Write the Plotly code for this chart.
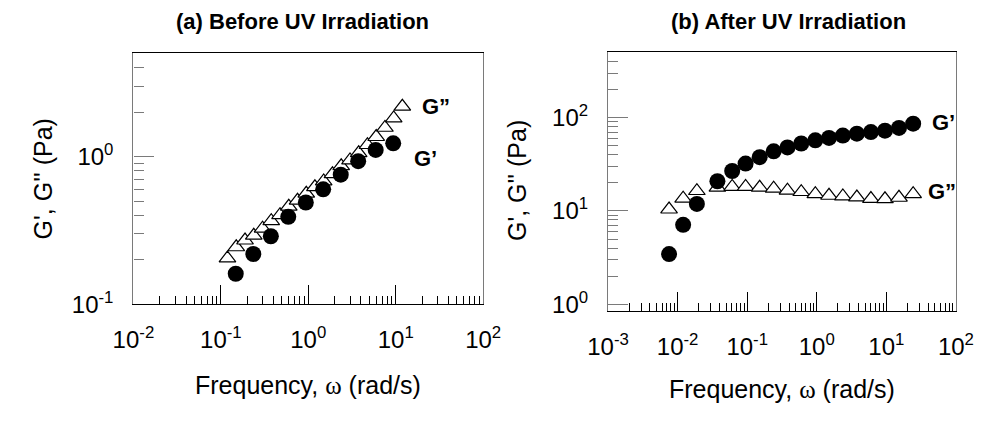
import plotly.graph_objects as go

# ---------------- data ----------------
# (a) Before UV irradiation
a_w_g2 = [0.119, 0.150, 0.189, 0.238, 0.300, 0.377, 0.475, 0.598, 0.753, 0.948,
          1.19, 1.50, 1.89, 2.38, 3.00, 3.77, 4.75, 5.98, 7.53, 9.48, 11.9]
a_g2 = [0.205, 0.244, 0.271, 0.292, 0.326, 0.367, 0.403, 0.459, 0.504, 0.562,
        0.622, 0.681, 0.762, 0.863, 0.946, 1.057, 1.20, 1.36, 1.57, 1.82, 2.18]
a_w_g1 = [0.148, 0.235, 0.373, 0.590, 0.937, 1.48, 2.35, 3.72, 5.90, 9.36]
a_g1 = [0.161, 0.219, 0.289, 0.391, 0.489, 0.600, 0.754, 0.931, 1.11, 1.23]

# (b) After UV irradiation
b_w = [0.00753, 0.0120, 0.0189, 0.0373, 0.0608, 0.0948, 0.151, 0.240, 0.379, 0.598,
       0.953, 1.50, 2.37, 3.77, 6.00, 9.56, 15.2, 24.3]
b_g1 = [3.45, 7.1, 11.9, 20.8, 26.8, 32.2, 37.7, 43.5, 47.9, 52.8,
        57.1, 60.5, 64.1, 67.2, 69.9, 72.4, 77.5, 86.0]
b_g2 = [10.4, 13.6, 16.4, 17.8, 18.2, 18.2, 17.8, 17.4, 16.6, 16.0,
        15.2, 14.6, 14.4, 14.0, 13.5, 13.4, 13.9, 15.2]

# tick labels
a_xticks = [0.01, 0.1, 1, 10, 100]
a_xtext = ["10<sup>-2</sup>", "10<sup>-1</sup>", "10<sup>0</sup>", "10<sup>1</sup>", "10<sup>2</sup>"]
a_yticks = [0.1, 1]
a_ytext = ["10<sup>-1</sup>", "10<sup>0</sup>"]
b_xticks = [0.001, 0.01, 0.1, 1, 10, 100]
b_xtext = ["10<sup>-3</sup>", "10<sup>-2</sup>", "10<sup>-1</sup>", "10<sup>0</sup>", "10<sup>1</sup>", "10<sup>2</sup>"]
b_yticks = [1, 10, 100]
b_ytext = ["10<sup>0</sup>", "10<sup>1</sup>", "10<sup>2</sup>"]


def minor_vals(d0, d1):
    return [k * 10.0 ** d for d in range(d0, d1) for k in range(2, 10)]


FONT = "Liberation Sans, Arial, sans-serif"
W, H = 996, 422

fig = go.Figure()

tri = dict(symbol="triangle-up", size=14.5, color="white", line=dict(color="black", width=1.2))
dot = dict(symbol="circle", size=16, color="black", line=dict(width=0))

fig.add_trace(go.Scatter(x=a_w_g2, y=a_g2, mode="markers", marker=tri, xaxis="x", yaxis="y"))
fig.add_trace(go.Scatter(x=a_w_g1, y=a_g1, mode="markers", marker=dot, xaxis="x", yaxis="y"))
fig.add_trace(go.Scatter(x=b_w, y=b_g2, mode="markers", marker=tri, xaxis="x2", yaxis="y2"))
fig.add_trace(go.Scatter(x=b_w, y=b_g1, mode="markers", marker=dot, xaxis="x2", yaxis="y2"))

XC = "black"
YC = "#7a7a7a"
TICKSZ = 24


def xax(domain, anchor, rng, tv, tt, mv):
    return dict(type="log", domain=domain, anchor=anchor, range=rng,
                showgrid=False, zeroline=False, showline=True, linecolor=XC, linewidth=1.3,
                mirror=True, ticks="inside", ticklen=19, tickwidth=1, tickcolor=XC,
                tickvals=tv, ticktext=tt, tickfont=dict(family=FONT, size=TICKSZ, color="black"),
                ticklabelstandoff=14,
                minor=dict(tickvals=mv, ticks="inside", ticklen=8, tickwidth=1, tickcolor=XC, showgrid=False))


def yax(domain, anchor, rng, tv, tt, mv):
    return dict(type="log", domain=domain, anchor=anchor, range=rng,
                showgrid=False, zeroline=False, showline=True, linecolor=YC, linewidth=1.3,
                mirror=True, ticks="inside", ticklen=20, tickwidth=1, tickcolor=YC,
                tickvals=tv, ticktext=tt, tickfont=dict(family=FONT, size=TICKSZ, color="black"),
                ticklabelstandoff=14,
                minor=dict(tickvals=mv, ticks="inside", ticklen=10, tickwidth=1, tickcolor=YC, showgrid=False))


fig.update_layout(
    width=W, height=H, margin=dict(l=0, r=0, t=0, b=0),
    paper_bgcolor="white", plot_bgcolor="white", showlegend=False,
    font=dict(family=FONT, color="black"),
    xaxis=xax([117 / W, 481 / W], "y", [-2, 2], a_xticks, a_xtext, minor_vals(-2, 2)),
    yaxis=yax([(H - 314) / H, (H - 55) / H], "x", [-1, 0.699], a_yticks, a_ytext, minor_vals(-1, 1)),
    xaxis2=xax([611 / W, 973 / W], "y2", [-3, 2], b_xticks, b_xtext, minor_vals(-3, 2)),
    yaxis2=yax([(H - 321) / H, (H - 54) / H], "x2", [-0.073, 2.699], b_yticks, b_ytext, minor_vals(0, 3)),
)

ann = []
# panel titles
ann.append(dict(text="<b>(a) Before UV Irradiation</b>", x=292.5 / W, y=(H - 22) / H, font=dict(size=22)))
ann.append(dict(text="<b>(b) After UV Irradiation</b>", x=799 / W, y=(H - 22) / H, font=dict(size=22)))
# axis titles
omega = "<span style='font-family:Liberation Serif, Times New Roman, serif'>ω</span>"
ann.append(dict(text="Frequency, " + omega + " (rad/s)", x=299 / W, y=(H - 397) / H, font=dict(size=25)))
ann.append(dict(text="Frequency, " + omega + " (rad/s)", x=792 / W, y=(H - 401) / H, font=dict(size=25)))
ann.append(dict(text="G', G'' (Pa)", x=23 / W, y=(H - 185) / H, textangle=-90, font=dict(size=25)))
ann.append(dict(text="G', G'' (Pa)", x=517 / W, y=(H - 186) / H, textangle=-90, font=dict(size=25)))
# series labels
ann.append(dict(text="<b>G”</b>", x=415 / W, y=(H - 110) / H, xanchor="left", font=dict(size=22)))
ann.append(dict(text="<b>G’</b>", x=407 / W, y=(H - 164) / H, xanchor="left", font=dict(size=22)))
ann.append(dict(text="<b>G’</b>", x=946 / W, y=(H - 126) / H, xanchor="left", font=dict(size=22)))
ann.append(dict(text="<b>G”</b>", x=942 / W, y=(H - 198) / H, xanchor="left", font=dict(size=22)))

for a in ann:
    a.setdefault("xanchor", "center")
    a.update(xref="paper", yref="paper", yanchor="middle", showarrow=False)
    a["font"] = dict(family=FONT, color="black", **a["font"])
fig.update_layout(annotations=ann)

fig.write_html("out.html")
